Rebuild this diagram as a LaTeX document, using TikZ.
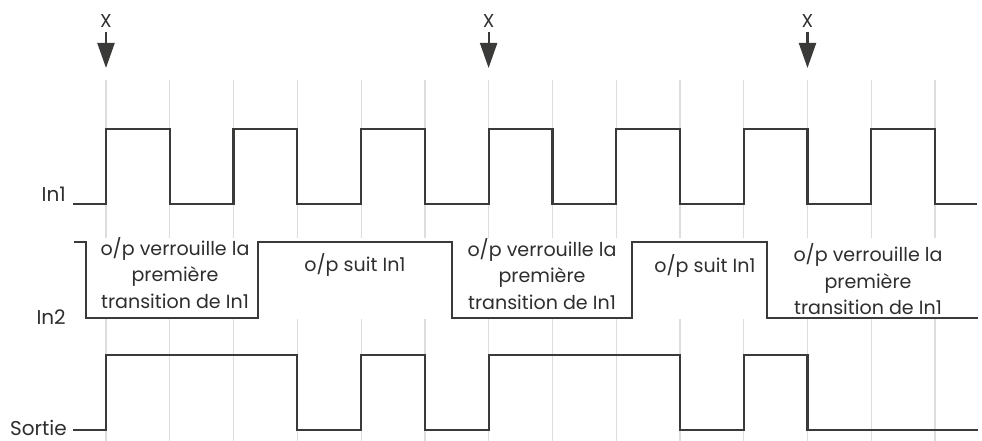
\documentclass[tikz,border=0pt]{standalone}
\usepackage{fontspec}
\setmainfont{Poppins}
\usetikzlibrary{arrows.meta}
\definecolor{sigcol}{HTML}{3A3A38}
\definecolor{gridcol}{HTML}{DDDDDD}
\definecolor{txtcol}{HTML}{2E2E2E}
\tikzset{
  sig/.style={draw=sigcol, line width=1.65pt, line join=miter},
  gridline/.style={draw=gridcol, line width=0.9pt},
  lbl/.style={text=txtcol, font=\fontsize{14.3pt}{19.9pt}\selectfont, align=center, inner sep=0pt},
  siglbl/.style={text=txtcol, font=\fontsize{15pt}{17pt}\selectfont, anchor=east, inner sep=0pt},
  xmark/.style={text=txtcol, font=\fontsize{14pt}{16pt}\selectfont, inner sep=0pt},
  marker/.style={draw=sigcol, line width=1.6pt, -{Triangle[width=12.75pt,length=18.75pt]}, shorten >=0pt}
}
\begin{document}
\begin{tikzpicture}[x=0.75pt,y=-0.75pt]
\useasboundingbox (0,0) rectangle (982,441);
% grid
\foreach \gx in {106,169.8,233.5,297.3,361.1,424.9,488.6,552.4,616.2,679.9,743.7,807.5,871.2,935} {
  \draw[gridline] (\gx,80) -- (\gx,238);
  \draw[gridline] (\gx,319) -- (\gx,441);
}
% markers
\foreach \mx/\nm in {106/xa,488.6/xb,807.5/xc} {
  \node[xmark] (\nm) at (\mx,21) {X};
  \coordinate (\nm tip) at (\mx,68);
  \draw[marker] (\mx,32) -- (\nm tip);
}
% In1
\draw[sig] (73,204) -| (106,129) -| (169.8,204) -| (233.5,129) -| (297.3,204) -| (361.1,129) -| (424.9,204) -| (488.6,129) -| (552.4,204) -| (616.2,129) -| (679.9,204) -| (743.7,129) -| (807.5,204) -| (871.2,129) -| (935,204) -- (977,204);
% In2
\draw[sig] (74,242) -| (86,318) -| (257.7,242) -| (451.7,318) -| (632.3,242) -| (767.3,318) -- (978,318);
% Sortie
\draw[sig] (73,430) -| (106,355) -| (297.3,430) -| (361.1,355) -| (424.9,430) -| (488.6,355) -| (679.9,430) -| (743.7,355) -| (807.5,430) -- (978,430);
% signal labels
\node[siglbl] (lin1) at (66,194) {In1};
\node[siglbl] (lin2) at (66,317) {In2};
\node[siglbl] (lsortie) at (67,428) {Sortie};
% state labels
\node[lbl] (b1) at (175,273) {o/p verrouille la\\première\\transition de In1};
\node[lbl] (b2) at (355,265) {o/p suit In1};
\node[lbl] (b3) at (542,274) {o/p verrouille la\\première\\transition de In1};
\node[lbl] (b4) at (705,266.5) {o/p suit In1};
\node[lbl] (b5) at (868,279.5) {o/p verrouille la\\première\\transition de In1};
\end{tikzpicture}
\end{document}
